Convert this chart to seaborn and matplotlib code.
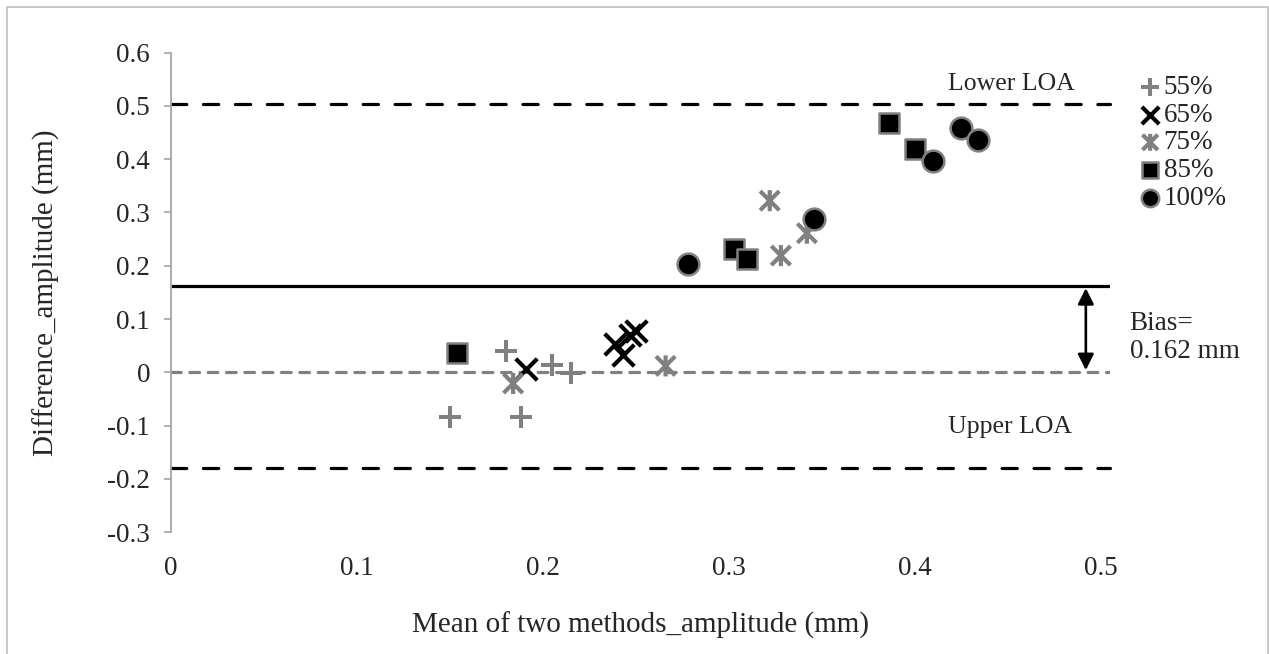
import numpy as np
import pandas as pd
import seaborn as sns
import matplotlib.pyplot as plt
from matplotlib.path import Path
from matplotlib.patches import Rectangle

# Bland-Altman data
x55 = [0.150, 0.180, 0.188, 0.205, 0.215]
y55 = [-0.083, 0.040, -0.083, 0.014, -0.002]
x65 = [0.191, 0.239, 0.243, 0.247, 0.250]
y65 = [0.006, 0.054, 0.032, 0.070, 0.077]
x75 = [0.184, 0.266, 0.322, 0.328, 0.342]
y75 = [-0.021, 0.012, 0.322, 0.219, 0.261]
x85 = [0.154, 0.303, 0.310, 0.386, 0.400]
y85 = [0.036, 0.231, 0.213, 0.468, 0.419]
x100 = [0.278, 0.346, 0.410, 0.425, 0.434]
y100 = [0.203, 0.287, 0.397, 0.459, 0.436]
groups = ['55%', '65%', '75%', '85%', '100%']

bias = 0.162
upper_line = 0.504
lower_line = -0.180

xticks = [0, 0.1, 0.2, 0.3, 0.4, 0.5]
yticks = [-0.3, -0.2, -0.1, 0, 0.1, 0.2, 0.3, 0.4, 0.5, 0.6]

sns.set_style('white')
plt.rcParams['font.family'] = ['Liberation Serif', 'DejaVu Serif']
plt.rcParams['lines.scale_dashes'] = False

df = pd.DataFrame({
    'x': x55 + x65 + x75 + x85 + x100,
    'y': y55 + y65 + y75 + y85 + y100,
    'group': ['55%'] * len(x55) + ['65%'] * len(x65) + ['75%'] * len(x75)
             + ['85%'] * len(x85) + ['100%'] * len(x100),
})

# Excel-style "star" marker: an X with a vertical bar
star = Path([(-1, -1), (1, 1), (-1, 1), (1, -1), (0, -1.1), (0, 1.1)],
            [Path.MOVETO, Path.LINETO, Path.MOVETO, Path.LINETO, Path.MOVETO, Path.LINETO])

fig = plt.figure(figsize=(12.69, 6.54), dpi=100)
ax = fig.add_axes([171 / 1269, 1 - 532.2 / 654, 939 / 1269, 479.7 / 654])

grey = '#808080'
d = df[df.group == '55%']
sns.scatterplot(x=d.x, y=d.y, marker='+', s=270, color=grey, linewidth=2.9,
                label='55%', ax=ax, zorder=3)
d = df[df.group == '65%']
sns.scatterplot(x=d.x, y=d.y, marker='x', s=240, color='black', linewidth=3.0,
                label='65%', ax=ax, zorder=3)
d = df[df.group == '75%']
sns.scatterplot(x=d.x, y=d.y, marker=star, s=230, facecolor='none', edgecolor=grey,
                linewidth=3.0, label='75%', ax=ax, zorder=3)
d = df[df.group == '85%']
sns.scatterplot(x=d.x, y=d.y, marker='s', s=215, color='black', edgecolor=grey,
                linewidth=1.8, label='85%', ax=ax, zorder=3)
d = df[df.group == '100%']
sns.scatterplot(x=d.x, y=d.y, marker='o', s=245, color='black', edgecolor=grey,
                linewidth=1.8, label='100%', ax=ax, zorder=3)

# reference lines
xs = [0, 0.505]
ax.plot(xs, [upper_line] * 2, color='black', lw=2.3, dashes=(11, 12),
        dash_capstyle='round', clip_on=False)
ax.plot(xs, [lower_line] * 2, color='black', lw=2.3, dashes=(11, 12),
        dash_capstyle='round', clip_on=False)
ax.plot(xs, [bias] * 2, color='black', lw=2.3, solid_capstyle='butt')
ax.plot(xs, [0, 0], color=grey, lw=2.3, dashes=(7, 6.2), dash_capstyle='round')

ax.annotate('', xy=(0.492, bias - 0.004), xytext=(0.492, 0.004),
            arrowprops=dict(arrowstyle='<|-|>', color='black', lw=1.9,
                            mutation_scale=24, shrinkA=0, shrinkB=0))

ax.text(0.452, 0.530, 'Lower LOA', ha='center', va='baseline', fontsize=18.5)
ax.text(0.451, -0.114, 'Upper LOA', ha='center', va='baseline', fontsize=18.5)
ax.text(0.5156, 0.066, 'Bias=\n0.162 mm', ha='left', va='center', fontsize=19.5,
        linespacing=1.15, clip_on=False)

ax.set_xlim(0, 0.505)
ax.set_ylim(-0.3, 0.6)
ax.set_xticks(xticks)
ax.set_xticklabels(['0', '0.1', '0.2', '0.3', '0.4', '0.5'])
ax.set_yticks(yticks)
ax.set_yticklabels(['-0.3', '-0.2', '-0.1', '0', '0.1', '0.2', '0.3', '0.4', '0.5', '0.6'])
ax.tick_params(axis='x', length=0, pad=17, labelsize=19.5)
ax.tick_params(axis='y', length=5, width=1.2, color='#a6a6a6', pad=10, labelsize=19.5,
               direction='out', left=True)
for side in ['top', 'right', 'bottom']:
    ax.spines[side].set_visible(False)
ax.spines['left'].set_color('#a6a6a6')
ax.spines['left'].set_linewidth(1.3)

ax.set_xlabel('Mean of two methods_amplitude (mm)', fontsize=21)
ax.set_ylabel('Difference_amplitude (mm)', fontsize=21)
ax.xaxis.set_label_coords(0.5, -0.166)
ax.yaxis.set_label_coords(-0.118, 0.5)

ax.legend(loc='upper left', bbox_to_anchor=(1140 / 1269, 1 - 75 / 654),
          bbox_transform=fig.transFigure, frameon=False, fontsize=19.5,
          handlelength=0.75, handletextpad=0.12, labelspacing=0.1,
          markerscale=0.8, borderpad=0, borderaxespad=0)

fig.add_artist(Rectangle((7 / 1269, -0.01), 1261 / 1269, 1.01 - 7 / 654,
                         transform=fig.transFigure, fill=False,
                         edgecolor='#bfbfbf', lw=1.2))

fig.savefig('out.png', dpi=100)
